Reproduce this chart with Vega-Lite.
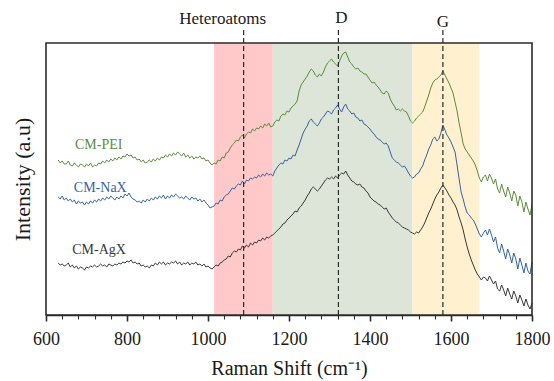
{
  "$schema": "https://vega.github.io/schema/vega-lite/v6.json",
  "width": 486,
  "height": 272,
  "autosize": "none",
  "padding": {"left": 46, "top": 43, "right": 22, "bottom": 66},
  "background": "white",
  "config": {
    "font": "Liberation Serif",
    "view": {"stroke": null},
    "axis": {"grid": false}
  },
  "datasets": {
    "spectra": [
{"x":630,"p":155,"n":118,"a":52},{"x":635,"p":152,"n":116,"a":50},{"x":640,"p":154,"n":119,"a":51},{"x":645,"p":151,"n":115,"a":49},{"x":650,"p":151,"n":117,"a":50},
{"x":655,"p":154,"n":114,"a":52},{"x":660,"p":150,"n":116,"a":48},{"x":665,"p":149,"n":113,"a":50},{"x":670,"p":152,"n":115,"a":47},{"x":675,"p":150,"n":111,"a":49},
{"x":680,"p":148,"n":114,"a":46},{"x":685,"p":151,"n":112,"a":48},{"x":690,"p":150,"n":113,"a":47},{"x":695,"p":148,"n":110,"a":45},{"x":700,"p":151,"n":113,"a":48},
{"x":705,"p":149,"n":111,"a":47},{"x":710,"p":152,"n":114,"a":49},{"x":715,"p":148,"n":112,"a":48},{"x":720,"p":150,"n":115,"a":50},{"x":725,"p":149,"n":113,"a":48},
{"x":730,"p":152,"n":116,"a":49},{"x":735,"p":151,"n":114,"a":51},{"x":740,"p":154,"n":117,"a":49},{"x":745,"p":152,"n":115,"a":50},{"x":750,"p":155,"n":118,"a":48},
{"x":755,"p":153,"n":116,"a":51},{"x":760,"p":156,"n":119,"a":50},{"x":765,"p":154,"n":117,"a":49},{"x":770,"p":157,"n":115,"a":51},{"x":775,"p":155,"n":118,"a":50},
{"x":780,"p":158,"n":116,"a":52},{"x":785,"p":156,"n":119,"a":51},{"x":790,"p":159,"n":117,"a":53},{"x":795,"p":158,"n":121,"a":52},{"x":800,"p":161,"n":119,"a":54},
{"x":805,"p":159,"n":122,"a":53},{"x":810,"p":160,"n":118,"a":55},{"x":815,"p":157,"n":116,"a":52},{"x":820,"p":158,"n":115,"a":53},{"x":825,"p":155,"n":113,"a":51},
{"x":830,"p":156,"n":114,"a":52},{"x":835,"p":153,"n":112,"a":49},{"x":840,"p":155,"n":115,"a":50},{"x":845,"p":152,"n":113,"a":48},{"x":850,"p":153,"n":116,"a":49},
{"x":855,"p":155,"n":114,"a":47},{"x":860,"p":153,"n":117,"a":50},{"x":865,"p":156,"n":115,"a":49},{"x":870,"p":154,"n":118,"a":52},{"x":875,"p":157,"n":116,"a":50},
{"x":880,"p":155,"n":119,"a":53},{"x":885,"p":158,"n":117,"a":51},{"x":890,"p":157,"n":120,"a":53},{"x":895,"p":160,"n":116,"a":50},{"x":900,"p":158,"n":119,"a":52},
{"x":905,"p":161,"n":117,"a":51},{"x":910,"p":159,"n":120,"a":53},{"x":915,"p":162,"n":118,"a":52},{"x":920,"p":160,"n":121,"a":54},{"x":925,"p":163,"n":119,"a":51},
{"x":930,"p":161,"n":117,"a":53},{"x":935,"p":159,"n":118,"a":50},{"x":940,"p":162,"n":116,"a":52},{"x":945,"p":158,"n":119,"a":51},{"x":950,"p":160,"n":117,"a":53},
{"x":955,"p":157,"n":115,"a":50},{"x":960,"p":159,"n":118,"a":52},{"x":965,"p":156,"n":116,"a":51},{"x":970,"p":158,"n":117,"a":53},{"x":975,"p":157,"n":114,"a":50},
{"x":980,"p":159,"n":116,"a":51},{"x":985,"p":156,"n":113,"a":49},{"x":990,"p":157,"n":115,"a":51},{"x":995,"p":154,"n":112,"a":48},{"x":1000,"p":155,"n":110,"a":49},
{"x":1005,"p":152,"n":107,"a":47},{"x":1010,"p":150,"n":108,"a":46},{"x":1015,"p":152,"n":109,"a":48},{"x":1020,"p":151,"n":112,"a":50},{"x":1025,"p":155,"n":111,"a":49},
{"x":1030,"p":154,"n":115,"a":52},{"x":1035,"p":158,"n":114,"a":53},{"x":1040,"p":157,"n":118,"a":55},{"x":1045,"p":162,"n":120,"a":56},{"x":1050,"p":163,"n":121,"a":59},
{"x":1055,"p":167,"n":124,"a":58},{"x":1060,"p":170,"n":127,"a":62},{"x":1065,"p":172,"n":126,"a":64},{"x":1070,"p":175,"n":129,"a":63},{"x":1075,"p":174,"n":131,"a":66},
{"x":1080,"p":178,"n":130,"a":65},{"x":1085,"p":180,"n":134,"a":69},{"x":1090,"p":177,"n":131,"a":67},{"x":1095,"p":181,"n":135,"a":70},{"x":1100,"p":183,"n":134,"a":68},
{"x":1105,"p":182,"n":137,"a":72},{"x":1110,"p":186,"n":136,"a":70},{"x":1115,"p":184,"n":138,"a":73},{"x":1120,"p":187,"n":137,"a":72},{"x":1125,"p":186,"n":140,"a":75},
{"x":1130,"p":189,"n":138,"a":74},{"x":1135,"p":187,"n":141,"a":77},{"x":1140,"p":191,"n":139,"a":75},{"x":1145,"p":189,"n":142,"a":78},{"x":1150,"p":192,"n":140,"a":77},
{"x":1155,"p":188,"n":141,"a":79},{"x":1160,"p":189,"n":139,"a":80},{"x":1165,"p":193,"n":144,"a":82},{"x":1170,"p":195,"n":147,"a":84},{"x":1175,"p":194,"n":150,"a":86},
{"x":1180,"p":199,"n":152,"a":88},{"x":1185,"p":201,"n":151,"a":91},{"x":1190,"p":200,"n":155,"a":92},{"x":1195,"p":204,"n":154,"a":95},{"x":1200,"p":203,"n":157,"a":97},
{"x":1205,"p":207,"n":156,"a":99},{"x":1210,"p":209,"n":160,"a":101},{"x":1215,"p":211,"n":159,"a":104},{"x":1220,"p":214,"n":165,"a":103},{"x":1225,"p":224,"n":170,"a":107},
{"x":1230,"p":230,"n":176,"a":109},{"x":1235,"p":233,"n":182,"a":112},{"x":1240,"p":236,"n":186,"a":115},{"x":1245,"p":239,"n":189,"a":119},{"x":1250,"p":243,"n":194,"a":122},
{"x":1255,"p":246,"n":196,"a":126},{"x":1260,"p":244,"n":193,"a":128},{"x":1265,"p":240,"n":191,"a":126},{"x":1270,"p":238,"n":189,"a":124},{"x":1275,"p":241,"n":192,"a":126},
{"x":1280,"p":239,"n":196,"a":129},{"x":1285,"p":243,"n":198,"a":132},{"x":1290,"p":248,"n":201,"a":135},{"x":1295,"p":252,"n":204,"a":137},{"x":1300,"p":254,"n":203,"a":136},
{"x":1305,"p":256,"n":201,"a":138},{"x":1310,"p":253,"n":205,"a":136},{"x":1315,"p":251,"n":207,"a":139},{"x":1320,"p":249,"n":210,"a":137},{"x":1325,"p":254,"n":206,"a":140},
{"x":1330,"p":259,"n":203,"a":142},{"x":1335,"p":262,"n":208,"a":141},{"x":1340,"p":263,"n":211,"a":144},{"x":1345,"p":258,"n":206,"a":140},{"x":1350,"p":253,"n":204,"a":137},
{"x":1355,"p":251,"n":201,"a":134},{"x":1360,"p":248,"n":202,"a":133},{"x":1365,"p":246,"n":198,"a":131},{"x":1370,"p":247,"n":197,"a":130},{"x":1375,"p":244,"n":194,"a":131},
{"x":1380,"p":243,"n":195,"a":128},{"x":1385,"p":241,"n":191,"a":127},{"x":1390,"p":241,"n":190,"a":124},{"x":1395,"p":238,"n":188,"a":122},{"x":1400,"p":235,"n":186,"a":118},
{"x":1405,"p":232,"n":183,"a":116},{"x":1410,"p":233,"n":181,"a":114},{"x":1415,"p":230,"n":178,"a":113},{"x":1420,"p":228,"n":176,"a":111},{"x":1425,"p":225,"n":175,"a":110},
{"x":1430,"p":222,"n":173,"a":108},{"x":1435,"p":221,"n":171,"a":106},{"x":1440,"p":224,"n":172,"a":107},{"x":1445,"p":222,"n":169,"a":103},{"x":1450,"p":216,"n":163,"a":100},
{"x":1455,"p":212,"n":157,"a":97},{"x":1460,"p":209,"n":155,"a":95},{"x":1465,"p":205,"n":153,"a":93},{"x":1470,"p":206,"n":152,"a":92},{"x":1475,"p":204,"n":150,"a":90},
{"x":1480,"p":206,"n":148,"a":88},{"x":1485,"p":204,"n":149,"a":87},{"x":1490,"p":203,"n":146,"a":86},{"x":1495,"p":199,"n":142,"a":85},{"x":1500,"p":194,"n":139,"a":83},
{"x":1505,"p":192,"n":137,"a":82},{"x":1510,"p":194,"n":138,"a":81},{"x":1515,"p":197,"n":141,"a":83},{"x":1520,"p":199,"n":142,"a":82},{"x":1525,"p":201,"n":146,"a":85},
{"x":1530,"p":203,"n":149,"a":88},{"x":1535,"p":208,"n":155,"a":92},{"x":1540,"p":214,"n":160,"a":97},{"x":1545,"p":220,"n":166,"a":102},{"x":1550,"p":227,"n":170,"a":106},
{"x":1555,"p":232,"n":176,"a":111},{"x":1560,"p":235,"n":178,"a":116},{"x":1565,"p":236,"n":174,"a":120},{"x":1570,"p":238,"n":176,"a":123},{"x":1575,"p":240,"n":182,"a":127},
{"x":1580,"p":244,"n":190,"a":130},{"x":1585,"p":240,"n":185,"a":127},{"x":1590,"p":236,"n":180,"a":124},{"x":1595,"p":232,"n":177,"a":120},{"x":1600,"p":227,"n":173,"a":117},
{"x":1605,"p":222,"n":168,"a":113},{"x":1610,"p":213,"n":163,"a":110},{"x":1615,"p":204,"n":150,"a":105},{"x":1620,"p":192,"n":136,"a":98},{"x":1625,"p":182,"n":123,"a":92},
{"x":1630,"p":171,"n":116,"a":85},{"x":1635,"p":166,"n":108,"a":76},{"x":1640,"p":163,"n":102,"a":68},{"x":1645,"p":160,"n":100,"a":61},{"x":1650,"p":157,"n":97,"a":55},
{"x":1655,"p":154,"n":95,"a":50},{"x":1660,"p":150,"n":91,"a":45},{"x":1665,"p":144,"n":86,"a":41},{"x":1670,"p":137,"n":81,"a":38},{"x":1675,"p":133,"n":78,"a":35},
{"x":1680,"p":138,"n":82,"a":38},{"x":1685,"p":140,"n":85,"a":37},{"x":1690,"p":134,"n":80,"a":34},{"x":1695,"p":141,"n":86,"a":39},{"x":1700,"p":137,"n":80,"a":35},
{"x":1705,"p":131,"n":73,"a":31},{"x":1710,"p":136,"n":78,"a":34},{"x":1715,"p":126,"n":67,"a":26},{"x":1720,"p":122,"n":62,"a":24},{"x":1725,"p":131,"n":71,"a":30},
{"x":1730,"p":124,"n":64,"a":25},{"x":1735,"p":118,"n":56,"a":19},{"x":1740,"p":128,"n":66,"a":27},{"x":1745,"p":122,"n":60,"a":21},{"x":1750,"p":114,"n":52,"a":16},
{"x":1755,"p":124,"n":62,"a":24},{"x":1760,"p":120,"n":56,"a":19},{"x":1765,"p":109,"n":46,"a":12},{"x":1770,"p":119,"n":57,"a":20},{"x":1775,"p":113,"n":50,"a":15},
{"x":1780,"p":103,"n":42,"a":9},{"x":1785,"p":113,"n":52,"a":16},{"x":1790,"p":106,"n":44,"a":10},{"x":1795,"p":100,"n":41,"a":6},{"x":1800,"p":110,"n":53,"a":12}
    ],
    "bands": [
      {"band": "Heteroatoms", "start": 1015, "end": 1160},
      {"band": "D", "start": 1160, "end": 1505},
      {"band": "G", "start": 1505, "end": 1670}
    ],
    "peaks": [
      {"name": "Heteroatoms", "pos": 1088},
      {"name": "D", "pos": 1322},
      {"name": "G", "pos": 1580}
    ],
    "labels": [
      {"series": "p", "text": "CM-PEI", "lx": 730, "ly": 166},
      {"series": "n", "text": "CM-NaX", "lx": 734, "ly": 123},
      {"series": "a", "text": "CM-AgX", "lx": 731, "ly": 61}
    ],
    "frame": [{"x0": 600, "x1": 1800, "y0": 0, "y1": 272}]
  },
  "encoding": {
    "x": {"type": "quantitative", "scale": {"domain": [600, 1800], "nice": false},
      "axis": {
        "values": [600,640,680,720,760,800,840,880,920,960,1000,1040,1080,1120,1160,1200,1240,1280,1320,1360,1400,1440,1480,1520,1560,1600,1640,1680,1720,1760,1800],
        "labelExpr": "datum.value % 200 == 0 ? datum.label : ''",
        "format": "d",
        "ticks": true,
        "tickSize": {"condition": {"test": "datum.value % 200 == 0", "value": 6}, "value": 4},
        "tickWidth": {"condition": {"test": "datum.value % 200 == 0", "value": 1.6}, "value": 1.1},
        "tickColor": "#2b2b2b",
        "domain": true,
        "domainColor": "#2b2b2b",
        "domainWidth": 1.6,
        "labelFont": "Liberation Serif",
        "labelFontSize": 18,
        "labelColor": "#1a1a1a",
        "labelPadding": 9,
        "labelFlush": false,
        "labelOverlap": false,
        "title": "Raman Shift (cm⁻¹)",
        "titleFont": "Liberation Serif",
        "titleFontSize": 20,
        "titleFontWeight": "normal",
        "titleColor": "#1a1a1a",
        "titlePadding": 10
      }},
    "y": {"type": "quantitative", "scale": {"domain": [0, 272], "nice": false, "zero": false},
      "axis": {"labels": false, "ticks": false, "domain": false, "title": "Intensity (a.u)", "titleFont": "Liberation Serif", "titleFontSize": 22, "titleFontWeight": "normal", "titleColor": "#1a1a1a", "titlePadding": 12}}
  },
  "layer": [
    {
      "data": {"name": "bands"},
      "mark": {"type": "rect"},
      "encoding": {
        "x": {"field": "start"},
        "x2": {"field": "end"},
        "y": {"datum": 0},
        "y2": {"datum": 272},
        "fill": {"field": "band", "type": "nominal", "scale": {"domain": ["Heteroatoms", "D", "G"], "range": ["#ffc9c9", "#dce5d7", "#fff1cf"]}, "legend": null}
      }
    },
    {
      "data": {"name": "spectra"},
      "transform": [{"fold": ["p", "n", "a"], "as": ["series", "v"]}],
      "mark": {"type": "line", "strokeWidth": 1, "interpolate": "linear"},
      "encoding": {
        "x": {"field": "x"},
        "y": {"field": "v"},
        "color": {"field": "series", "type": "nominal", "scale": {"domain": ["p", "n", "a"], "range": ["#5a8c3b", "#3463a5", "#383838"]}, "legend": null}
      }
    },
    {
      "data": {"name": "peaks"},
      "mark": {"type": "rule", "strokeDash": [5, 3], "color": "#2a2a2a", "strokeWidth": 1.2},
      "encoding": {
        "x": {"field": "pos"},
        "y": {"datum": 0},
        "y2": {"datum": 287}
      }
    },
    {
      "data": {"name": "peaks"},
      "transform": [{"filter": "datum.name === 'Heteroatoms'"}],
      "mark": {"type": "text", "font": "Liberation Serif", "fontSize": 17, "color": "#1a1a1a", "baseline": "alphabetic", "align": "center", "dx": -21},
      "encoding": {
        "x": {"field": "pos"},
        "y": {"datum": 291},
        "text": {"field": "name"}
      }
    },
    {
      "data": {"name": "peaks"},
      "transform": [{"filter": "datum.name === 'D'"}],
      "mark": {"type": "text", "font": "Liberation Serif", "fontSize": 17, "color": "#1a1a1a", "baseline": "alphabetic", "align": "center", "dx": 3},
      "encoding": {
        "x": {"field": "pos"},
        "y": {"datum": 292},
        "text": {"field": "name"}
      }
    },
    {
      "data": {"name": "peaks"},
      "transform": [{"filter": "datum.name === 'G'"}],
      "mark": {"type": "text", "font": "Liberation Serif", "fontSize": 17, "color": "#1a1a1a", "baseline": "alphabetic", "align": "center"},
      "encoding": {
        "x": {"field": "pos"},
        "y": {"datum": 288},
        "text": {"field": "name"}
      }
    },
    {
      "data": {"name": "labels"},
      "mark": {"type": "text", "font": "Liberation Serif", "fontSize": 14, "baseline": "alphabetic", "align": "center"},
      "encoding": {
        "x": {"field": "lx"},
        "y": {"field": "ly"},
        "text": {"field": "text"},
        "color": {"field": "series", "type": "nominal", "legend": null}
      }
    },
    {
      "data": {"name": "frame"},
      "mark": {"type": "rect", "fill": null, "fillOpacity": 0, "stroke": "#2b2b2b", "strokeWidth": 1.6},
      "encoding": {
        "x": {"field": "x0"},
        "x2": {"field": "x1"},
        "y": {"field": "y0"},
        "y2": {"field": "y1"}
      }
    }
  ]
}
